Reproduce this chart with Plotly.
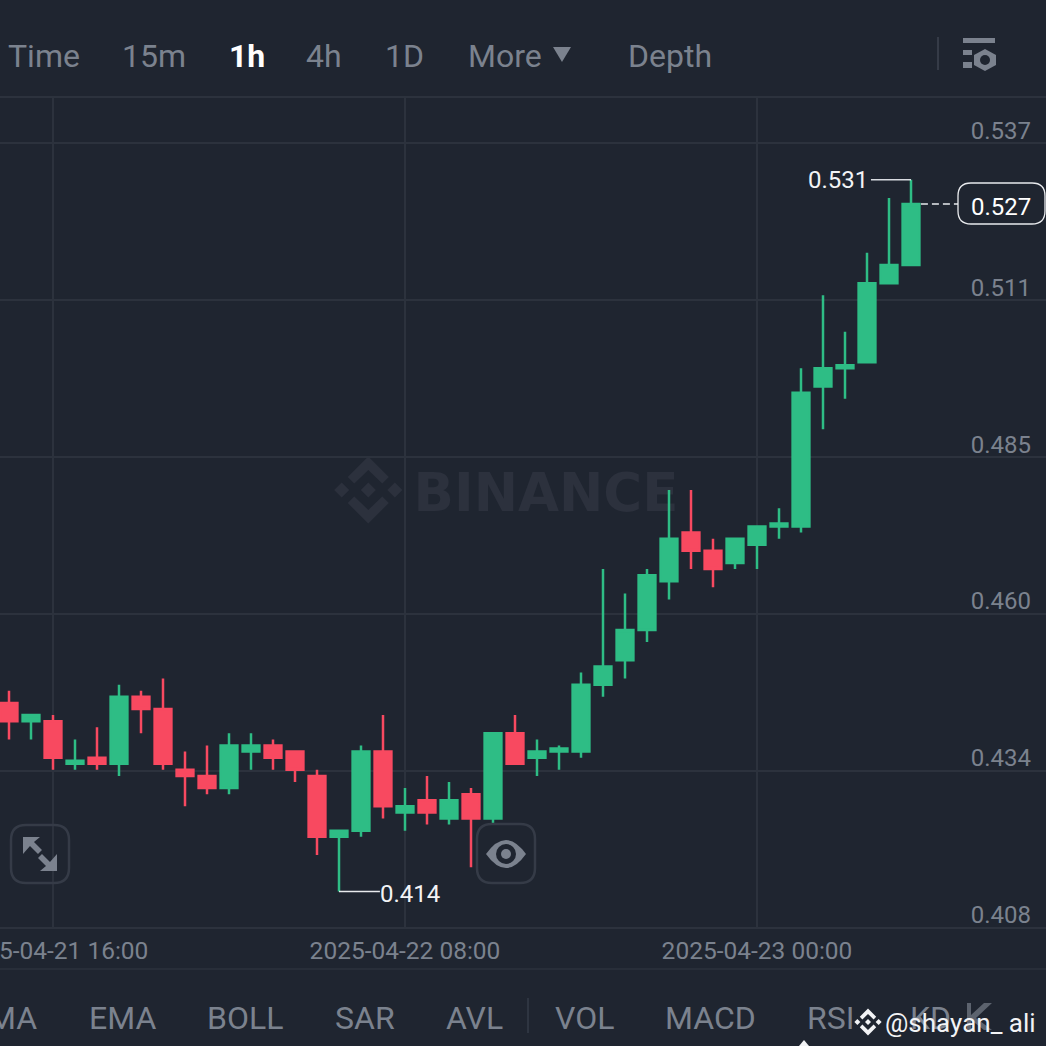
import pandas as pd
import plotly.graph_objects as go

BG = '#1f2530'
GRID = '#2c323d'
GREEN = '#2ebd85'
RED = '#f84960'
GREY = '#7b828e'
ICON = '#7b828e'
BTN = '#353b47'
SIZE = 1046

# 1h candles, first one is 2025-04-21 14:00
times = pd.date_range('2025-04-21 14:00', periods=42, freq='h')
opens = [.445, .442, .442, .435, .436, .435, .446, .444, .434, .433, .431, .437, .438, .437,
         .433, .423, .424, .437, .427, .429, .426, .430, .426, .440, .436, .437, .437, .448,
         .452, .457, .465, .473, .470, .468, .471, .474, .474, .497, .500, .501, .514, .517]
highs = [.447, .443, .443, .439, .441, .448, .447, .449, .437, .438, .440, .440, .439, .437,
         .434, .424, .438, .443, .431, .433, .432, .431, .440, .443, .439, .438, .450, .467,
         .463, .467, .480, .480, .472, .472, .474, .477, .500, .512, .506, .519, .528, .531]
lows = [.439, .439, .434, .434, .434, .433, .440, .434, .428, .430, .430, .434, .434, .432,
        .420, .414, .423, .426, .424, .425, .425, .418, .425, .435, .433, .434, .436, .446,
        .449, .455, .462, .467, .464, .467, .467, .472, .473, .490, .495, .501, .514, .517]
closes = [.442, .443, .436, .4355, .435, .446, .444, .435, .433, .431, .438, .438, .436, .434,
          .423, .424, .437, .428, .428, .427, .429, .426, .440, .435, .437, .4375, .448, .451,
          .457, .466, .472, .470, .467, .472, .474, .4745, .496, .500, .5005, .514, .517, .527]

price_ticks = [.537, .5112, .4854, .4596, .4338, .408]
price_labels = ['0.537', '0.511', '0.485', '0.460', '0.434', '0.408']
time_ticks = ['2025-04-21 16:00', '2025-04-22 08:00', '2025-04-23 00:00']
time_labels = time_ticks
top_tabs = [('Time', 44), ('15m', 154), ('4h', 324), ('1D', 404), ('More', 505), ('Depth', 670)]
bottom_tabs = [('MA', 12), ('EMA', 122), ('BOLL', 245), ('SAR', 365), ('AVL', 474),
               ('VOL', 584), ('MACD', 710), ('RSI', 830), ('KD', 930)]
last_price = .527
high_price = .531
low_price = .414


def px(x):
    return x / SIZE


def py(y):
    return 1 - y / SIZE


def poly(points, color):
    path = 'M' + ' L'.join(f'{px(x):.5f},{py(y):.5f}' for x, y in points) + ' Z'
    return dict(type='path', xref='paper', yref='paper', path=path, fillcolor=color,
                line_width=0)


def round_rect(x0, y0, x1, y1, r, line, width, fill='rgba(0,0,0,0)'):
    p = [f'M{px(x0 + r):.5f},{py(y0):.5f}', f'L{px(x1 - r):.5f},{py(y0):.5f}',
         f'Q{px(x1):.5f},{py(y0):.5f} {px(x1):.5f},{py(y0 + r):.5f}',
         f'L{px(x1):.5f},{py(y1 - r):.5f}',
         f'Q{px(x1):.5f},{py(y1):.5f} {px(x1 - r):.5f},{py(y1):.5f}',
         f'L{px(x0 + r):.5f},{py(y1):.5f}',
         f'Q{px(x0):.5f},{py(y1):.5f} {px(x0):.5f},{py(y1 - r):.5f}',
         f'L{px(x0):.5f},{py(y0 + r):.5f}',
         f'Q{px(x0):.5f},{py(y0):.5f} {px(x0 + r):.5f},{py(y0):.5f} Z']
    return dict(type='path', xref='paper', yref='paper', path=' '.join(p), fillcolor=fill,
                line=dict(color=line, width=width))


def hline(y, x0=0, x1=SIZE, color=GRID, width=1.5, dash='solid'):
    return dict(type='line', xref='paper', yref='paper', x0=px(x0), x1=px(x1), y0=py(y), y1=py(y),
                line=dict(color=color, width=width, dash=dash))


def vline(x, y0, y1, color=GRID, width=1.5):
    return dict(type='line', xref='paper', yref='paper', x0=px(x), x1=px(x), y0=py(y0), y1=py(y1),
                line=dict(color=color, width=width))


def label(text, x, y, size=32, color=GREY, anchor='center', font='Roboto', weight='normal'):
    return dict(text=text, xref='paper', yref='paper', x=px(x), y=py(y), showarrow=False,
                xanchor=anchor, yanchor='middle',
                font=dict(family=font, size=size, color=color, weight=weight))


def binance_logo(cx, cy, s, color, layer='above'):
    out = []
    for dx in (-26.6, 0, 26.6):
        out.append(poly([(cx + dx * s, cy - 7.5 * s), (cx + (dx + 7.5) * s, cy),
                         (cx + dx * s, cy + 7.5 * s), (cx + (dx - 7.5) * s, cy)], color))
    for sign in (-1, 1):
        out.append(poly([(cx, cy + sign * 33.5 * s), (cx + 20.5 * s, cy + sign * 13 * s),
                         (cx + 14 * s, cy + sign * 6.5 * s), (cx, cy + sign * 20 * s),
                         (cx - 14 * s, cy + sign * 6.5 * s), (cx - 20.5 * s, cy + sign * 13 * s)],
                        color))
    for shp in out:
        shp['layer'] = layer
    return out


fig = go.Figure(go.Candlestick(
    x=times, open=opens, high=highs, low=lows, close=closes,
    increasing=dict(line=dict(color=GREEN, width=2.5), fillcolor=GREEN),
    decreasing=dict(line=dict(color=RED, width=2.5), fillcolor=RED),
    whiskerwidth=0, hoverinfo='skip',
))

shapes = []

# watermark under the candles
shapes += binance_logo(368.3, 490, 1, '#2c313d', layer='below')
shapes.append(dict(type='rect', xref='paper', yref='paper', x0=px(410), x1=px(682), y0=py(513), y1=py(463),
                   layer='below', line_width=0, fillcolor='rgba(0,0,0,0)',
                   label=dict(text='BINANCE', textposition='middle center',
                              font=dict(family='DejaVu Sans', size=53, color='#2c313d', weight='bold'))))

# frame lines
shapes += [hline(97, width=2), hline(928, width=2), hline(969, width=1.5), vline(938, 37, 70, '#353b47', 2),
           vline(528, 998, 1033, '#353b47', 1.5)]

# high / low leaders
shapes.append(dict(type='line', xref='x', yref='y', x0=times[41] - pd.Timedelta(hours=1.82), x1=times[41],
                   y0=high_price, y1=high_price, line=dict(color='#d8dbe0', width=1.5)))
shapes.append(dict(type='line', xref='x', yref='y', x0=times[15], x1=times[15] + pd.Timedelta(hours=1.86),
                   y0=low_price, y1=low_price, line=dict(color='#e8eaed', width=1.5)))

# last price tag
shapes.append(dict(type='line', xref='x', yref='y', x0=times[41] + pd.Timedelta(hours=0.45),
                   x1=times[41] + pd.Timedelta(hours=2.15), y0=last_price, y1=last_price,
                   line=dict(color='#e8eaed', width=1.5, dash='7px,4px')))
shapes.append(round_rect(958, 183, 1045, 224, 13, '#e8eaed', 1.3, BG))

# buttons on the chart
shapes += [round_rect(11, 825, 69, 883, 15, BTN, 2.5), round_rect(477, 824, 535, 883, 15, BTN, 2.5)]
shapes.append(poly([(23, 837), (40, 837), (34, 842), (42, 850), (38, 854), (30, 846), (23, 854)], ICON))
shapes.append(poly([(57, 871), (40, 871), (46, 866), (38, 858), (42, 854), (50, 862), (57, 854)], ICON))
shapes.append(dict(type='path', xref='paper', yref='paper', fillcolor=ICON, line_width=0,
                   path=f'M{px(486):.5f},{py(854):.5f} Q{px(506):.5f},{py(826):.5f} {px(526):.5f},{py(854):.5f} '
                        f'Q{px(506):.5f},{py(882):.5f} {px(486):.5f},{py(854):.5f} Z'))
shapes.append(dict(type='circle', xref='paper', yref='paper', x0=px(496), x1=px(516), y0=py(864), y1=py(844),
                   fillcolor=BG, line_width=0))
shapes.append(dict(type='circle', xref='paper', yref='paper', x0=px(501), x1=px(511), y0=py(859), y1=py(849),
                   fillcolor=ICON, line_width=0))

# settings icon top right
shapes += [poly([(963, 38), (995, 38), (995, 43), (963, 43)], ICON),
           poly([(963, 50), (972, 50), (972, 55), (963, 55)], ICON),
           poly([(963, 62), (972, 62), (972, 68), (963, 68)], ICON),
           poly([(985, 49), (996, 55), (996, 65), (985, 71), (974, 65), (974, 55)], ICON)]
shapes.append(dict(type='circle', xref='paper', yref='paper', x0=px(980), x1=px(990), y0=py(65), y1=py(55),
                   fillcolor=BG, line_width=0))

# More triangle
shapes.append(poly([(553, 47), (571, 47), (562, 62)], ICON))

# bottom right K icon and credit
shapes += [poly([(967, 1003), (971, 1003), (971, 1015), (984, 1003), (992, 1003), (976, 1018),
                 (992, 1030), (984, 1030), (971, 1020), (971, 1030), (967, 1030)], '#5c636e')]
shapes += binance_logo(868, 1022, 0.4, '#f2f3f5')
shapes.append(poly([(804, 1040), (809, 1046), (799, 1046)], '#f2f3f5'))

annotations = [label(t, x, 56) for t, x in top_tabs]
annotations.append(label('1h', 247, 56, color='#ffffff', weight='bold'))
annotations += [label(t, x, 1018) for t, x in bottom_tabs]
annotations += [label('0.531', 838, 180, 24, '#f2f3f5'), label('0.414', 410, 894, 24, '#f2f3f5'),
                label('0.527', 1001, 207, 24, '#ffffff'),
                label('@shayan_ ali', 1038, 1023, 26, '#f2f3f5', anchor='right')]

fig.update_layout(
    width=SIZE, height=SIZE, margin=dict(l=0, r=0, t=0, b=0, pad=0),
    paper_bgcolor=BG, plot_bgcolor=BG, showlegend=False, boxgap=0.236, boxgroupgap=0,
    shapes=shapes, annotations=annotations,
    xaxis=dict(
        domain=[0, 1], rangeslider_visible=False, type='date', automargin=False,
        range=['2025-04-21 13:35:27', '2025-04-23 13:08:10'],
        tickmode='array', tickvals=time_ticks, ticktext=time_labels,
        showgrid=True, gridcolor=GRID, gridwidth=1.5, zeroline=False,
        showline=False, ticks='', ticklabelstandoff=5, ticklabeloverflow='allow',
        tickfont=dict(family='Roboto', size=24.5, color=GREY),
    ),
    yaxis=dict(
        domain=[py(928), py(97)], side='right', range=[.408, .5446], automargin=False,
        tickmode='array', tickvals=price_ticks, ticktext=price_labels,
        showgrid=True, gridcolor=GRID, gridwidth=1.5, zeroline=False,
        showline=False, ticks='', ticklabelposition='inside', ticklabeloverflow='allow',
        ticklabelshift=-13, ticklabelstandoff=12,
        tickfont=dict(family='Roboto', size=24, color=GREY),
    ),
)

fig.write_html('out.html', config=dict(displayModeBar=False),
               post_script="document.body.style.margin='0';document.body.style.overflow='hidden';"
                           f"document.body.style.background='{BG}';")
